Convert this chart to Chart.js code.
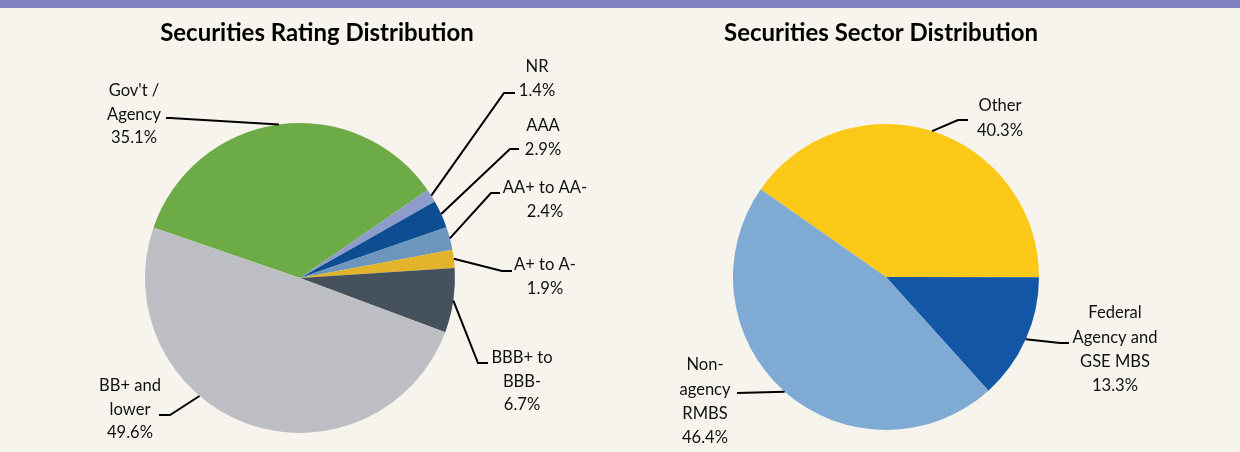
<!DOCTYPE html>
<html><head><meta charset="utf-8">
<script src="https://cdn.jsdelivr.net/npm/chart.js@4/dist/chart.umd.min.js"></script>
<style>
html,body{margin:0;padding:0;background:#f7f4ee;}
#wrap{position:relative;width:1240px;height:452px;overflow:hidden;background:#f7f4ee;}
#band{position:absolute;left:0;top:0;width:1240px;height:8px;background:#8080c0;}
canvas{position:absolute;top:0;}
</style></head><body>
<div id="wrap"><div id="band"></div>
<canvas id="left" width="620" height="452" style="left:0"></canvas>
<canvas id="right" width="620" height="452" style="left:620px"></canvas>
</div>
<script>
// ---- data ----
const ratingCategories = ["Gov't / Agency", "NR", "AAA", "AA+ to AA-", "A+ to A-", "BBB+ to BBB-", "BB+ and lower"];
const ratingValues = [35.1, 1.4, 2.9, 2.4, 1.9, 6.7, 49.6];
const ratingLabelLines = [["Gov't /", "Agency"], ["NR"], ["AAA"], ["AA+ to AA-"], ["A+ to A-"], ["BBB+ to", "BBB-"], ["BB+ and", "lower"]];

const sectorCategories = ["Other", "Federal Agency and GSE MBS", "Non-agency RMBS"];
const sectorValues = [40.3, 13.3, 46.4];
const sectorLabelLines = [["Other"], ["Federal", "Agency and", "GSE MBS"], ["Non-", "agency", "RMBS"]];

const chartTitles = ["Securities Rating Distribution", "Securities Sector Distribution"];

// ---- styles / layout ----
const ratingColors = ["#6cab45", "#8d9ccb", "#0f4d93", "#6c96bd", "#e1b42b", "#46515e", "#bcbec3"];
const sectorColors = ["#fcc918", "#1256a5", "#7eaad4"];

// callout positions (page pixels): text centre, first line y, elbow, end, position along arc
const ratingCallouts = [
  {tx:134, ty:91,  elbow:[170,118], end:[166,118], frac:0.5},
  {tx:537, ty:67,  elbow:[504,93],  end:[515,93],  frac:0.5},
  {tx:543, ty:126, elbow:[510,149], end:[519,149], frac:0.5},
  {tx:545, ty:188, elbow:[491,193], end:[500,193], frac:0.5},
  {tx:545, ty:265, elbow:[502,271], end:[512,271], frac:0.5},
  {tx:522, ty:358, elbow:[478,363], end:[488,363], frac:0.5},
  {tx:130, ty:386, elbow:[170,415], end:[159,415], frac:0.616}
];
const sectorCallouts = [
  {tx:1000, ty:106, elbow:[958,120],  end:[968,120],  frac:0.5},
  {tx:1115, ty:313, elbow:[1060,343], end:[1069,343], frac:0.5},
  {tx:705,  ty:365, elbow:[737,393],  end:[737,393],  frac:0.5}
];

const FONT = "Lato, 'Open Sans', sans-serif";
function fitSize(texts, target, weight) {
  const c = document.createElement('canvas').getContext('2d');
  c.font = weight + " 100px " + FONT;
  let w = 0;
  texts.forEach(t => { w += c.measureText(t).width; });
  return 100 * target / w;
}
const labelSize = fitSize(["35.1%", "Agency", "BB+ and", "BBB+ to", "AA+ to AA-", "Federal", "GSE MBS"], 46.7 + 54.3 + 62 + 59 + 79 + 58 + 72, "normal");
const titleSize = fitSize(["Securities Sector Distribution"], 314, "bold");

const calloutPlugin = {
  id: 'callouts',
  afterDraw(chart, args, opts) {
    const ctx = chart.ctx;
    const meta = chart.getDatasetMeta(0);
    const ox = opts.offsetX;
    ctx.save();
    ctx.fillStyle = '#000';
    ctx.textAlign = 'center';
    ctx.textBaseline = 'middle';
    ctx.font = "bold " + titleSize.toFixed(2) + "px " + FONT;
    ctx.fillText(opts.title, opts.titleX - ox, 33);
    ctx.font = labelSize.toFixed(2) + "px " + FONT;
    ctx.fillStyle = '#111';
    ctx.strokeStyle = '#000';
    ctx.lineWidth = 2;
    ctx.lineJoin = 'miter';
    const vals = chart.data.datasets[0].data;
    meta.data.forEach((arc, i) => {
      const c = opts.callouts[i];
      const p = arc.getProps(['x','y','startAngle','endAngle','outerRadius'], true);
      const a = p.startAngle + (p.endAngle - p.startAngle) * c.frac;
      const sx = p.x + p.outerRadius * Math.cos(a);
      const sy = p.y + p.outerRadius * Math.sin(a);
      ctx.beginPath();
      ctx.moveTo(sx, sy);
      ctx.lineTo(c.elbow[0] - ox, c.elbow[1]);
      ctx.lineTo(c.end[0] - ox, c.end[1]);
      ctx.stroke();
      const lines = opts.lines[i].concat([vals[i].toFixed(1) + '%']);
      lines.forEach((t, k) => {
        ctx.fillText(t, c.tx - ox, c.ty + k * opts.lineH);
      });
    });
    ctx.restore();
  }
};

function makePie(id, cats, vals, colors, rotation, radius, padding, pluginOpts) {
  return new Chart(document.getElementById(id), {
    type: 'pie',
    data: { labels: cats, datasets: [{ data: vals, backgroundColor: colors, borderWidth: 0, hoverOffset: 0 }] },
    options: {
      responsive: false, animation: false, rotation: rotation, radius: radius,
      layout: { padding: padding },
      events: [],
      plugins: { legend: { display: false }, tooltip: { enabled: false }, title: { display: false },
                 callouts: pluginOpts }
    },
    plugins: [calloutPlugin]
  });
}

makePie('left', ratingCategories, ratingValues, ratingColors, -71, 155,
  {left:145, right:165, top:123, bottom:19},
  {offsetX:0, title:chartTitles[0], titleX:317, callouts:ratingCallouts, lines:ratingLabelLines, lineH:23.4});
makePie('right', sectorCategories, sectorValues, sectorColors, -55, 153,
  {left:113, right:201, top:124, bottom:22},
  {offsetX:620, title:chartTitles[1], titleX:881, callouts:sectorCallouts, lines:sectorLabelLines, lineH:24.3});
</script>
</body></html>
